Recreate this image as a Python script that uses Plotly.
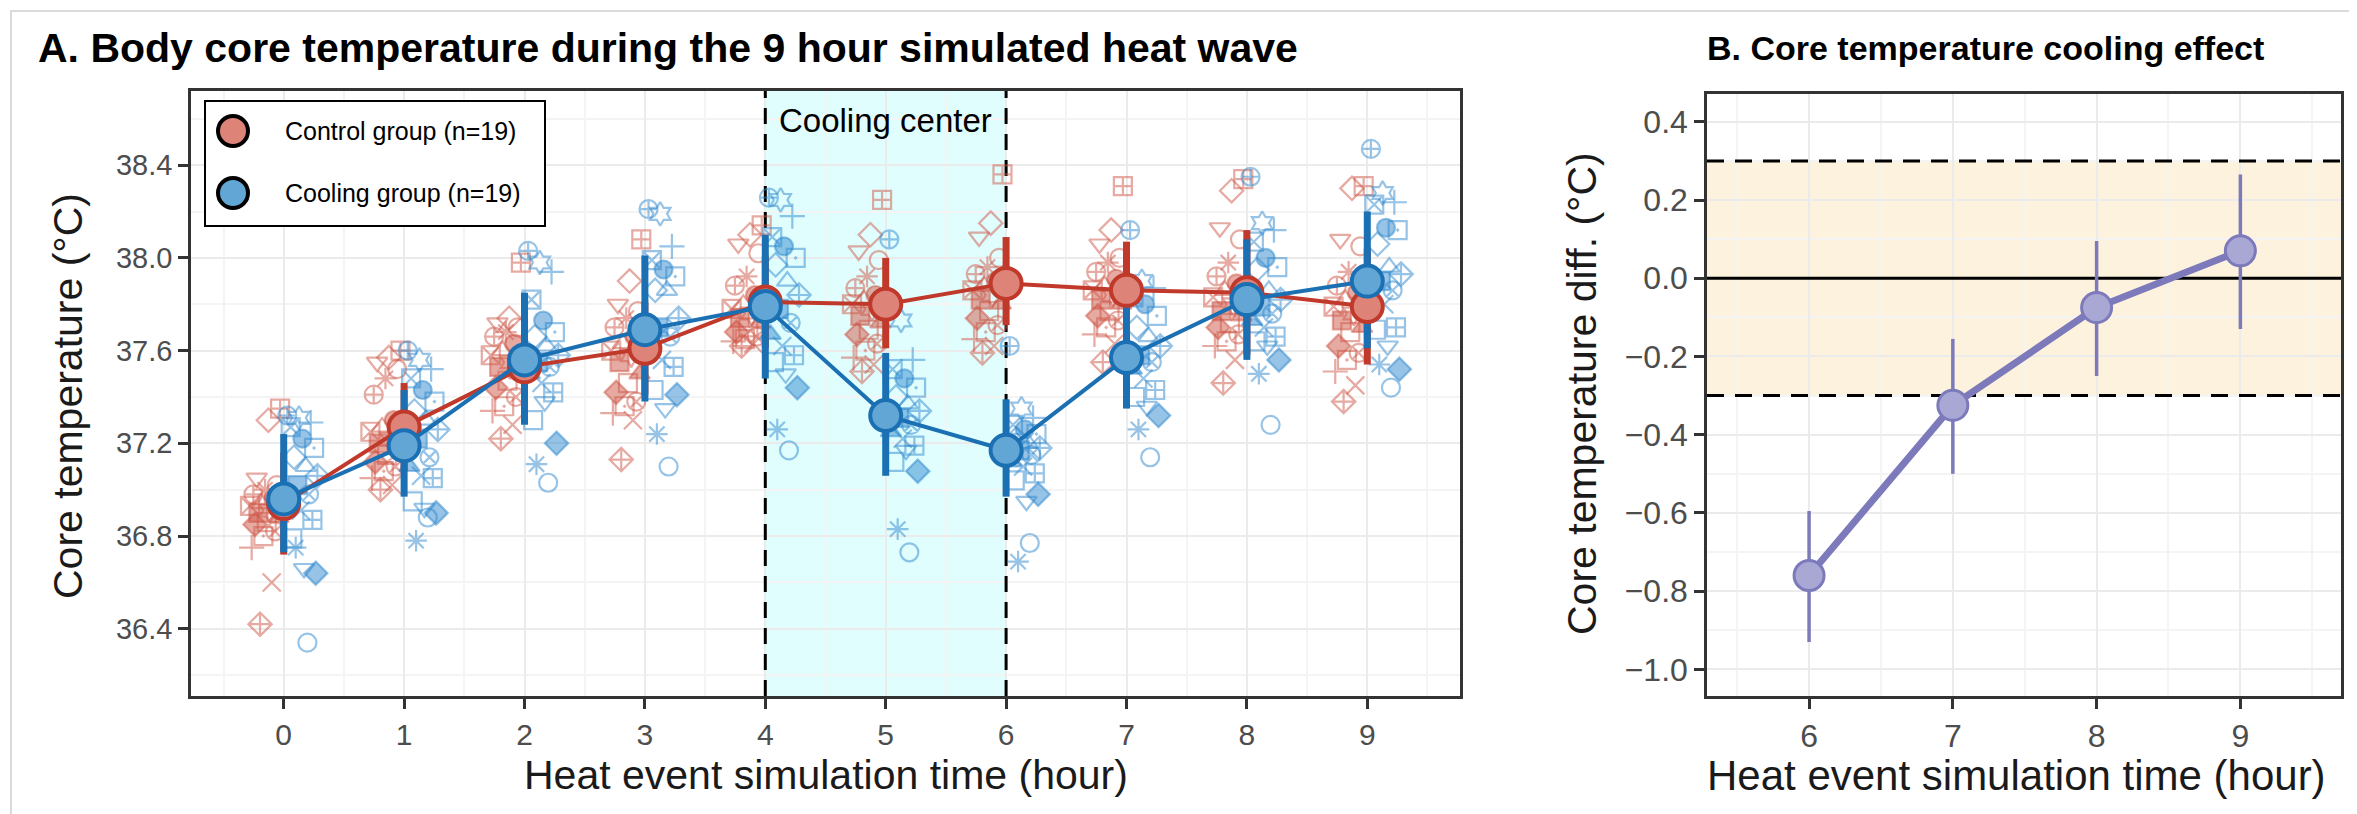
import plotly.graph_objects as go

W, H = 2357, 814

# ---------------- data ----------------
hours = [0, 1, 2, 3, 4, 5, 6, 7, 8, 9]

ctrl_mean = [36.94, 37.27, 37.53, 37.61, 37.81, 37.80, 37.89, 37.86, 37.85, 37.79]
ctrl_lo = [36.72, 37.08, 37.33, 37.41, 37.61, 37.61, 37.71, 37.65, 37.58, 37.54]
ctrl_hi = [37.16, 37.46, 37.73, 37.81, 38.01, 38.00, 38.09, 38.07, 38.12, 38.04]

cool_mean = [36.96, 37.19, 37.56, 37.69, 37.79, 37.32, 37.17, 37.57, 37.82, 37.90]
cool_lo = [36.73, 36.97, 37.28, 37.38, 37.48, 37.06, 36.97, 37.35, 37.56, 37.61]
cool_hi = [37.24, 37.43, 37.85, 38.01, 38.10, 37.59, 37.39, 37.83, 38.08, 38.20]

# individual participants (19 per group), one list per hour
ctrl_h0 = [37.35, 37.30, 37.05, 37.02, 37.00, 36.98, 36.96, 36.94, 36.93, 36.91, 36.90, 36.88, 36.86, 36.85, 36.82, 36.80, 36.75, 36.60, 36.42]
ctrl_h1 = [37.60, 37.57, 37.55, 37.52, 37.48, 37.41, 37.30, 37.27, 37.25, 37.22, 37.20, 37.18, 37.15, 37.12, 37.10, 37.08, 37.05, 37.02, 37.00]
ctrl_h2 = [37.98, 37.74, 37.72, 37.70, 37.68, 37.66, 37.63, 37.60, 37.58, 37.55, 37.53, 37.50, 37.47, 37.44, 37.40, 37.36, 37.34, 37.28, 37.22]
ctrl_h3 = [38.08, 37.90, 37.80, 37.77, 37.74, 37.70, 37.66, 37.63, 37.60, 37.58, 37.55, 37.50, 37.46, 37.42, 37.38, 37.36, 37.33, 37.30, 37.13]
ctrl_h4 = [38.14, 38.10, 38.06, 38.02, 37.92, 37.88, 37.84, 37.80, 37.78, 37.76, 37.74, 37.72, 37.70, 37.68, 37.66, 37.65, 37.64, 37.63, 37.62]
ctrl_h5 = [38.25, 38.10, 38.03, 37.99, 37.92, 37.87, 37.84, 37.82, 37.80, 37.78, 37.75, 37.72, 37.69, 37.67, 37.63, 37.60, 37.57, 37.54, 37.51]
ctrl_h6 = [38.36, 38.15, 38.09, 38.00, 37.96, 37.93, 37.90, 37.88, 37.86, 37.84, 37.82, 37.80, 37.77, 37.74, 37.71, 37.68, 37.65, 37.62, 37.59]
ctrl_h7 = [38.31, 38.12, 38.06, 38.00, 37.98, 37.94, 37.91, 37.88, 37.86, 37.84, 37.82, 37.80, 37.77, 37.75, 37.73, 37.70, 37.67, 37.63, 37.55]
ctrl_h8 = [38.34, 38.29, 38.13, 38.08, 37.98, 37.92, 37.89, 37.86, 37.83, 37.80, 37.77, 37.75, 37.72, 37.70, 37.67, 37.64, 37.62, 37.56, 37.46]
ctrl_h9 = [38.31, 38.30, 38.08, 38.05, 37.94, 37.88, 37.85, 37.82, 37.79, 37.76, 37.73, 37.70, 37.68, 37.62, 37.59, 37.56, 37.51, 37.45, 37.38]

cool_h0 = [37.32, 37.31, 37.29, 37.27, 37.22, 37.18, 37.14, 37.10, 37.06, 37.02, 36.98, 36.95, 36.91, 36.87, 36.79, 36.66, 36.64, 36.75, 36.34]
cool_h1 = [37.60, 37.56, 37.52, 37.48, 37.43, 37.38, 37.34, 37.30, 37.26, 37.22, 37.14, 37.10, 37.06, 37.05, 36.95, 36.92, 36.90, 36.78, 36.88]
cool_h2 = [38.03, 37.98, 37.94, 37.82, 37.73, 37.68, 37.66, 37.62, 37.58, 37.55, 37.53, 37.50, 37.46, 37.42, 37.30, 37.38, 37.20, 37.11, 37.03]
cool_h3 = [38.21, 38.19, 38.05, 37.99, 37.95, 37.92, 37.86, 37.86, 37.74, 37.70, 37.66, 37.60, 37.56, 37.53, 37.43, 37.35, 37.41, 37.24, 37.10]
cool_h4 = [38.26, 38.25, 38.18, 38.09, 38.05, 38.00, 37.97, 37.90, 37.84, 37.78, 37.72, 37.67, 37.62, 37.58, 37.55, 37.50, 37.44, 37.26, 37.17]
cool_h5 = [38.08, 37.73, 37.56, 37.52, 37.48, 37.44, 37.40, 37.37, 37.34, 37.31, 37.28, 37.25, 37.22, 37.19, 37.12, 37.17, 37.08, 36.83, 36.73]
cool_h6 = [37.62, 37.35, 37.31, 37.28, 37.26, 37.24, 37.22, 37.20, 37.18, 37.17, 37.15, 37.12, 37.10, 37.07, 37.04, 36.95, 36.98, 36.69, 36.77]
cool_h7 = [38.12, 37.90, 37.87, 37.83, 37.80, 37.75, 37.70, 37.66, 37.62, 37.58, 37.55, 37.52, 37.48, 37.43, 37.40, 37.36, 37.32, 37.26, 37.14]
cool_h8 = [38.35, 38.15, 38.12, 38.07, 38.00, 37.96, 37.95, 37.86, 37.82, 37.79, 37.76, 37.73, 37.70, 37.66, 37.64, 37.62, 37.56, 37.50, 37.28]
cool_h9 = [38.47, 38.28, 38.24, 38.23, 38.13, 38.12, 38.06, 37.96, 37.93, 37.90, 37.86, 37.83, 37.80, 37.70, 37.69, 37.62, 37.52, 37.54, 37.44]

ctrl_points = [ctrl_h0, ctrl_h1, ctrl_h2, ctrl_h3, ctrl_h4, ctrl_h5, ctrl_h6, ctrl_h7, ctrl_h8, ctrl_h9]
cool_points = [cool_h0, cool_h1, cool_h2, cool_h3, cool_h4, cool_h5, cool_h6, cool_h7, cool_h8, cool_h9]

cooling_window = [4, 6]          # hours spent in the cooling center

# panel B
diff_hours = [6, 7, 8, 9]
diff_mean = [-0.76, -0.325, -0.075, 0.07]
diff_lo = [-0.93, -0.50, -0.25, -0.13]
diff_hi = [-0.595, -0.155, 0.095, 0.265]
equiv_bounds = [-0.3, 0.3]

y_ticks_a = [36.4, 36.8, 37.2, 37.6, 38.0, 38.4]
y_ticks_b = [-1.0, -0.8, -0.6, -0.4, -0.2, 0.0, 0.2, 0.4]

# ---------------- styles ----------------
FONT = "Liberation Sans, Arial, sans-serif"
RED = "#C0392B"
RED_FILL = "#DE8378"
BLUE = "#1A70B3"
BLUE_FILL = "#62A6D6"
PURPLE = "#7C7ABB"
PURPLE_FILL = "#A9A7D3"
RED_PT = "rgba(205,85,70,0.5)"
BLUE_PT = "rgba(45,135,205,0.5)"

XR_A = [-0.77, 9.77]
YR_A = [36.11, 38.72]
XR_B = [5.29, 9.70]
YR_B = [-1.068, 0.471]

ctrl_symbols = ["square-cross-open", "diamond-open", "triangle-down-open", "circle-open",
                "asterisk-open", "circle-cross-open", "circle", "triangle-up-open",
                "square-x-open", "hexagram-open", "square", "triangle-up", "square-open",
                "diamond", "circle-x-open", "square-open-dot", "cross-thin-open",
                "x-thin-open", "diamond-cross-open"]
cool_symbols = ["circle-cross-open", "hexagram-open", "cross-thin-open", "square-x-open",
                "circle", "square-open-dot", "diamond-open", "triangle-up-open",
                "diamond-cross-open", "square", "circle-x-open", "triangle-up",
                "x-thin-open", "square-cross-open", "square-open", "triangle-down-open",
                "diamond", "asterisk-open", "circle-open"]

n = 19
jit = [((k * 7) % n) / (n - 1) for k in range(n)]


def scatter_xy(points, side):
    xs, ys = [], []
    for h, vals in zip(hours, points):
        for k, v in enumerate(vals):
            xs.append(h + side * (0.03 + 0.25 * jit[k]))
            ys.append(v)
    return xs, ys


fig = go.Figure()

# reference lines (drawn first so they sit under the data)
for xv in cooling_window:
    fig.add_trace(go.Scatter(x=[xv, xv], y=YR_A, mode="lines", showlegend=False, hoverinfo="skip",
                             line=dict(color="black", width=3, dash="16px,10px"),
                             xaxis="x", yaxis="y"))
for yv in equiv_bounds:
    fig.add_trace(go.Scatter(x=XR_B, y=[yv, yv], mode="lines", showlegend=False, hoverinfo="skip",
                             line=dict(color="black", width=3, dash="17px,11px"),
                             xaxis="x2", yaxis="y2"))
fig.add_trace(go.Scatter(x=XR_B, y=[0, 0], mode="lines", showlegend=False, hoverinfo="skip",
                         line=dict(color="black", width=3), xaxis="x2", yaxis="y2"))

cx, cy = scatter_xy(ctrl_points, -1)
bx, by = scatter_xy(cool_points, +1)

fig.add_trace(go.Scatter(
    x=cx, y=cy, mode="markers", showlegend=False, hoverinfo="skip",
    marker=dict(symbol=ctrl_symbols * len(hours), size=18, color=RED_PT,
                line=dict(width=2.2, color=RED_PT)),
    xaxis="x", yaxis="y"))
fig.add_trace(go.Scatter(
    x=bx, y=by, mode="markers", showlegend=False, hoverinfo="skip",
    marker=dict(symbol=cool_symbols * len(hours), size=18, color=BLUE_PT,
                line=dict(width=2.2, color=BLUE_PT)),
    xaxis="x", yaxis="y"))

# error bars
for mean, lo, hi, col in [(ctrl_mean, ctrl_lo, ctrl_hi, RED), (cool_mean, cool_lo, cool_hi, BLUE)]:
    fig.add_trace(go.Scatter(
        x=hours, y=mean, mode="markers", showlegend=False, hoverinfo="skip",
        marker=dict(size=2, opacity=0),
        error_y=dict(type="data", symmetric=False,
                     array=[h - m for h, m in zip(hi, mean)],
                     arrayminus=[m - l for m, l in zip(mean, lo)],
                     color=col, thickness=7, width=0),
        xaxis="x", yaxis="y"))

# mean lines and points
for mean, col, fill in [(ctrl_mean, RED, RED_FILL), (cool_mean, BLUE, BLUE_FILL)]:
    fig.add_trace(go.Scatter(
        x=hours, y=mean, mode="lines+markers", showlegend=False,
        line=dict(color=col, width=4),
        marker=dict(size=31, color=fill, line=dict(color=col, width=4)),
        xaxis="x", yaxis="y"))

# panel B
fig.add_trace(go.Scatter(
    x=diff_hours, y=diff_mean, mode="lines+markers", showlegend=False,
    line=dict(color=PURPLE, width=7),
    marker=dict(size=30, color=PURPLE_FILL, line=dict(color=PURPLE, width=3)),
    error_y=dict(type="data", symmetric=False,
                 array=[h - m for h, m in zip(diff_hi, diff_mean)],
                 arrayminus=[m - l for m, l in zip(diff_mean, diff_lo)],
                 color=PURPLE, thickness=3.5, width=0),
    xaxis="x2", yaxis="y2"))

# ---------------- axes ----------------
grid_major = "#EBEBEB"
grid_minor = "#F4F4F4"
axis_common = dict(showline=True, linecolor="#333333", linewidth=2.5, mirror=True,
                   ticks="outside", ticklen=10, tickwidth=2.5, tickcolor="#333333",
                   showgrid=True, gridcolor=grid_major, gridwidth=2,
                   zeroline=False)

fig.update_layout(
    xaxis=dict(domain=[183 / W, 1452 / W], range=XR_A, tickmode="array",
               tickvals=hours, ticktext=[str(h) for h in hours],
               tickfont=dict(family=FONT, size=30, color="#4D4D4D"),
               minor=dict(dtick=0.5, tick0=0.5, showgrid=True, gridcolor=grid_minor, gridwidth=1.5, ticks=""),
               anchor="y", **axis_common),
    yaxis=dict(domain=[1 - 688 / H, 1 - 83 / H], range=YR_A, tickmode="array",
               tickvals=y_ticks_a, ticktext=["%.1f" % v for v in y_ticks_a],
               tickfont=dict(family=FONT, size=29, color="#4D4D4D"),
               minor=dict(dtick=0.2, tick0=36.2, showgrid=True, gridcolor=grid_minor, gridwidth=1.5, ticks=""),
               anchor="x", **axis_common),
    xaxis2=dict(domain=[1699 / W, 2333 / W], range=XR_B, tickmode="array",
                tickvals=diff_hours, ticktext=[str(h) for h in diff_hours],
                tickfont=dict(family=FONT, size=32, color="#4D4D4D"),
                minor=dict(dtick=0.5, tick0=5.5, showgrid=True, gridcolor=grid_minor, gridwidth=1.5, ticks=""),
                anchor="y2", **axis_common),
    yaxis2=dict(domain=[1 - 688 / H, 1 - 86 / H], range=YR_B, tickmode="array",
                tickvals=y_ticks_b, ticktext=[("%.1f" % v).replace("-", "\u2212") for v in y_ticks_b],
                tickfont=dict(family=FONT, size=32, color="#4D4D4D"),
                minor=dict(dtick=0.1, tick0=-1.1, showgrid=True, gridcolor=grid_minor, gridwidth=1.5, ticks=""),
                anchor="x2", **axis_common),
)

# ---------------- shapes ----------------
shapes = [
    # cooling center band
    dict(type="rect", xref="x", yref="y domain", x0=cooling_window[0], x1=cooling_window[1], y0=0, y1=1,
         fillcolor="#E0FEFE", line=dict(width=0), layer="below"),
    # panel B equivalence band
    dict(type="rect", xref="x2 domain", yref="y2", x0=0, x1=1, y0=equiv_bounds[0], y1=equiv_bounds[1],
         fillcolor="#FDF2DE", line=dict(width=0), layer="below"),
    # outer frame
    dict(type="rect", xref="paper", yref="paper", x0=3 / W, x1=1 - 3 / W, y0=3 / H, y1=1 - 3 / H,
         line=dict(color="#DADADA", width=2), layer="below"),
    # legend box
    dict(type="rect", xref="paper", yref="paper", x0=197 / W, x1=537 / W,
         y0=1 - 218 / H, y1=1 - 93 / H, fillcolor="white",
         line=dict(color="black", width=2), layer="above"),
]
r = 15
for cyp, fill in [(123, RED_FILL), (185, BLUE_FILL)]:
    shapes.append(dict(type="circle", xref="paper", yref="paper",
                       x0=(225 - r) / W, x1=(225 + r) / W,
                       y0=1 - (cyp + r) / H, y1=1 - (cyp - r) / H,
                       fillcolor=fill, line=dict(color="black", width=4), layer="above"))
fig.update_layout(shapes=shapes)

# ---------------- text ----------------
ann = [
    dict(text="<b>A. Body core temperature during the 9 hour simulated heat wave</b>",
         x=28 / W, y=1 - 40 / H, xref="paper", yref="paper", xanchor="left", yanchor="middle",
         showarrow=False, font=dict(family=FONT, size=41, color="black")),
    dict(text="<b>B. Core temperature cooling effect</b>",
         x=1697 / W, y=1 - 40 / H, xref="paper", yref="paper", xanchor="left", yanchor="middle",
         showarrow=False, font=dict(family=FONT, size=34, color="black")),
    dict(text="Heat event simulation time (hour)", x=818 / W, y=1 - 767 / H,
         xref="paper", yref="paper", xanchor="center", yanchor="middle", showarrow=False,
         font=dict(family=FONT, size=41, color="#1A1A1A")),
    dict(text="Heat event simulation time (hour)", x=2008 / W, y=1 - 767 / H,
         xref="paper", yref="paper", xanchor="center", yanchor="middle", showarrow=False,
         font=dict(family=FONT, size=42, color="#1A1A1A")),
    dict(text="Core temperature (°C)", x=60 / W, y=1 - 388 / H, textangle=-90,
         xref="paper", yref="paper", xanchor="center", yanchor="middle", showarrow=False,
         font=dict(family=FONT, size=41, color="#1A1A1A")),
    dict(text="Core temperature diff. (°C)", x=1574 / W, y=1 - 386 / H, textangle=-90,
         xref="paper", yref="paper", xanchor="center", yanchor="middle", showarrow=False,
         font=dict(family=FONT, size=41, color="#1A1A1A")),
    dict(text="Cooling center", x=5, y=1 - 112 / H, xref="x", yref="paper",
         xanchor="center", yanchor="middle", showarrow=False,
         font=dict(family=FONT, size=33, color="black")),
    dict(text="Control group (n=19)", x=275 / W, y=1 - 123 / H, xref="paper", yref="paper",
         xanchor="left", yanchor="middle", showarrow=False,
         font=dict(family=FONT, size=25, color="black")),
    dict(text="Cooling group (n=19)", x=275 / W, y=1 - 185 / H, xref="paper", yref="paper",
         xanchor="left", yanchor="middle", showarrow=False,
         font=dict(family=FONT, size=25, color="black")),
]
fig.update_layout(
    annotations=ann,
    width=W, height=H, autosize=False,
    margin=dict(l=0, r=0, t=0, b=0, pad=0),
    paper_bgcolor="white", plot_bgcolor="white",
    showlegend=False,
    font=dict(family=FONT),
)

fig.write_html("out.html")
